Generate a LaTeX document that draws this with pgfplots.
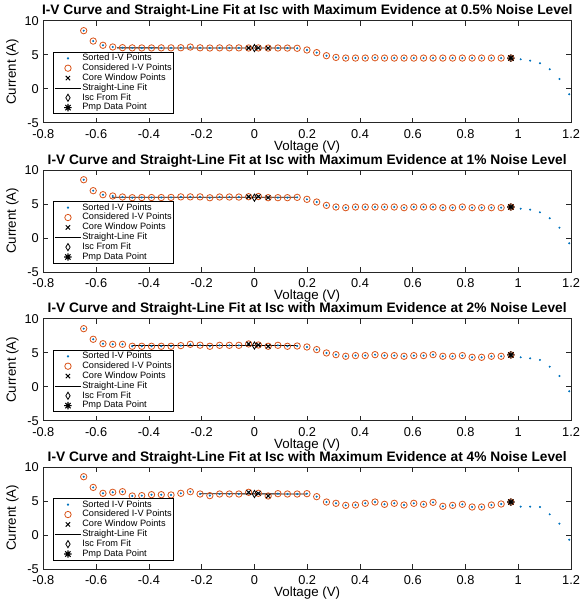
\documentclass[border=0pt]{standalone}
\usepackage{fontspec}
\setmainfont{Liberation Sans}
\usepackage{pgfplots}
\usepackage{pgfplotstable}
\pgfplotsset{compat=1.18}
\definecolor{mblue}{rgb}{0,0.447,0.741}
\definecolor{morange}{rgb}{0.85,0.325,0.098}
\pgfdeclareplotmark{mstar}{%
 \pgfpathmoveto{\pgfqpoint{-\pgfplotmarksize}{0pt}}\pgfpathlineto{\pgfqpoint{\pgfplotmarksize}{0pt}}%
 \pgfpathmoveto{\pgfqpoint{0pt}{-\pgfplotmarksize}}\pgfpathlineto{\pgfqpoint{0pt}{\pgfplotmarksize}}%
 \pgfpathmoveto{\pgfqpoint{-0.707\pgfplotmarksize}{-0.707\pgfplotmarksize}}\pgfpathlineto{\pgfqpoint{0.707\pgfplotmarksize}{0.707\pgfplotmarksize}}%
 \pgfpathmoveto{\pgfqpoint{-0.707\pgfplotmarksize}{0.707\pgfplotmarksize}}\pgfpathlineto{\pgfqpoint{0.707\pgfplotmarksize}{-0.707\pgfplotmarksize}}%
 \pgfusepathqstroke}

\pgfplotstableread{
x y
-0.647 8.53
-0.611 7.00
-0.574 6.38
-0.537 6.13
-0.500 6.03
-0.463 6.00
-0.427 5.99
-0.390 5.99
-0.353 6.00
-0.316 6.00
-0.279 6.02
-0.243 6.12
-0.206 6.01
-0.169 5.98
-0.132 6.00
-0.095 6.00
-0.059 6.00
-0.022 5.98
0.015 5.99
0.052 5.97
0.089 5.98
0.125 5.97
0.162 5.94
0.199 5.69
0.236 5.30
0.273 4.85
0.309 4.60
0.346 4.50
0.383 4.50
0.420 4.50
0.457 4.55
0.493 4.50
0.530 4.50
0.567 4.50
0.604 4.50
0.641 4.50
0.677 4.50
0.714 4.50
0.751 4.50
0.788 4.50
0.825 4.50
0.861 4.50
0.898 4.50
0.935 4.50
0.972 4.50
1.009 4.32
1.045 4.12
1.082 3.74
1.119 2.85
1.156 1.43
1.193 -0.82
}\dataA

\pgfplotstableread{
x y
-0.647 8.57
-0.611 6.96
-0.574 6.37
-0.537 6.18
-0.500 6.03
-0.463 5.93
-0.427 5.95
-0.390 5.95
-0.353 5.95
-0.316 5.97
-0.279 6.05
-0.243 6.05
-0.206 6.05
-0.169 5.92
-0.132 6.03
-0.095 6.03
-0.059 6.02
-0.022 6.07
0.015 6.10
0.052 5.93
0.089 5.93
0.125 5.93
0.162 5.98
0.199 5.69
0.236 5.29
0.273 4.80
0.309 4.56
0.346 4.46
0.383 4.56
0.420 4.56
0.457 4.56
0.493 4.56
0.530 4.56
0.567 4.46
0.604 4.56
0.641 4.56
0.677 4.56
0.714 4.46
0.751 4.46
0.788 4.56
0.825 4.46
0.861 4.46
0.898 4.46
0.935 4.46
0.972 4.56
1.009 4.31
1.045 4.17
1.082 3.78
1.119 2.90
1.156 1.52
1.193 -0.78
}\dataB

\pgfplotstableread{
x y
-0.647 8.53
-0.611 6.97
-0.574 6.32
-0.537 6.23
-0.500 6.23
-0.463 5.94
-0.427 5.94
-0.390 5.94
-0.353 5.94
-0.316 5.94
-0.279 6.04
-0.243 6.23
-0.206 6.10
-0.169 5.94
-0.132 6.08
-0.095 6.08
-0.059 6.08
-0.022 6.28
0.015 6.13
0.052 5.94
0.089 6.08
0.125 5.94
0.162 5.98
0.199 5.84
0.236 5.45
0.273 4.96
0.309 4.71
0.346 4.47
0.383 4.57
0.420 4.57
0.457 4.71
0.493 4.57
0.530 4.57
0.567 4.47
0.604 4.57
0.641 4.57
0.677 4.71
0.714 4.47
0.751 4.47
0.788 4.57
0.825 4.32
0.861 4.32
0.898 4.47
0.935 4.47
0.972 4.67
1.009 4.32
1.045 4.17
1.082 3.93
1.119 2.94
1.156 1.57
1.193 -0.68
}\dataC

\pgfplotstableread{
x y
-0.647 8.57
-0.611 7.00
-0.574 6.13
-0.537 6.28
-0.500 6.37
-0.463 5.74
-0.427 5.79
-0.390 5.93
-0.353 5.93
-0.316 5.89
-0.279 6.13
-0.243 6.37
-0.206 6.03
-0.169 5.79
-0.132 6.03
-0.095 6.03
-0.059 6.03
-0.022 6.28
0.015 6.13
0.052 5.74
0.089 6.08
0.125 6.03
0.162 6.03
0.199 6.08
0.236 5.64
0.273 4.85
0.309 4.66
0.346 4.36
0.383 4.41
0.420 4.66
0.457 4.85
0.493 4.51
0.530 4.66
0.567 4.41
0.604 4.66
0.641 4.51
0.677 4.80
0.714 4.22
0.751 4.36
0.788 4.51
0.825 4.12
0.861 4.12
0.898 4.41
0.935 4.56
0.972 4.85
1.009 4.17
1.045 4.17
1.082 4.12
1.119 3.04
1.156 1.67
1.193 -0.69
}\dataD

\pgfplotsset{
 panel/.style={
  scale only axis, width=395.8pt, height=76.5pt,
  anchor=north west,
  xmin=-0.8, xmax=1.2, ymin=-5, ymax=10,
  xtick={-0.8,-0.6,-0.4,-0.2,0,0.2,0.4,0.6,0.8,1,1.2},
  ytick={-5,0,5,10},
  tick align=inside, major tick length=3.75pt,
  axis line style={line width=0.5pt, black!85},
  every tick/.style={black!85, line width=0.5pt},
  tick label style={font=\fontsize{9.6}{11}\selectfont, inner sep=0.5pt},
  xticklabel style={yshift=-4.3pt},
  yticklabel style={xshift=-2.7pt},
  /pgf/number format/assume math mode=true,
  xlabel={Voltage (V)}, ylabel={Current (A)},
  label style={font=\fontsize{11.2}{12}\selectfont},
  every axis x label/.style={at={(axis description cs:0.5,-0.274)}, anchor=base},
  every axis y label/.style={at={(axis description cs:-0.0587,0.5)}, rotate=90, anchor=center},
  every axis title/.style={at={(axis description cs:0.5,1)}, anchor=base, yshift=4.3pt, inner sep=0pt, font=\bfseries\fontsize{10.3}{12}\selectfont},
  legend style={at={(axis description cs:0.018,0.085)}, anchor=south west,
    font=\fontsize{6.9}{7.1}\selectfont, draw=black, line width=0.5pt,
    inner sep=0.8pt, row sep=0pt, fill=white, nodes={inner sep=0.45pt}},
  legend cell align=left,
  legend image code/.code={\draw[mark repeat=2,mark phase=2,#1] plot coordinates {(0pt,0pt) (10pt,0pt) (20pt,0pt)};},
 },
 sorted/.style={only marks, mark=*, mark size=0.55pt, mblue},
 consid/.style={only marks, mark=o, mark size=2.4pt, morange, line width=0.6pt, restrict x to domain=-1:0.98},
 core/.style={only marks, mark=x, mark size=2.3pt, black, line width=0.7pt, restrict x to domain=-0.03:0.06},
 fitl/.style={black, line width=0.6pt, no marks},
 iscm/.style={only marks, mark=diamond, mark size=2.7pt, black, line width=0.6pt, mark options={xscale=0.8}},
 pmpm/.style={only marks, mark=mstar, mark size=2.8pt, black, line width=0.8pt},
}

\begin{document}
\begin{tikzpicture}
\begin{axis}[panel, at={(32.5pt,-15.5pt)},
  title={I-V Curve and Straight-Line Fit at Isc with Maximum Evidence at 0.5\% Noise Level}]
\addplot[sorted] table {\dataA};
\addplot[consid] table {\dataA};
\addplot[core] table {\dataA};
\addplot[fitl] coordinates {(-0.52,6.0) (0.15,5.98)};
\addplot[iscm] coordinates {(0,5.97)};
\addplot[pmpm] coordinates {(0.972,4.50)};
\legend{Sorted I-V Points, Considered I-V Points, Core Window Points, Straight-Line Fit, Isc From Fit, Pmp Data Point}
\end{axis}
\begin{axis}[panel, at={(32.5pt,-127.5pt)},
  title={I-V Curve and Straight-Line Fit at Isc with Maximum Evidence at 1\% Noise Level}]
\addplot[sorted] table {\dataB};
\addplot[consid] table {\dataB};
\addplot[core] table {\dataB};
\addplot[fitl] coordinates {(-0.54,6.0) (0.16,5.98)};
\addplot[iscm] coordinates {(0,5.93)};
\addplot[pmpm] coordinates {(0.972,4.56)};
\legend{Sorted I-V Points, Considered I-V Points, Core Window Points, Straight-Line Fit, Isc From Fit, Pmp Data Point}
\end{axis}
\begin{axis}[panel, at={(32.5pt,-239pt)},
  title={I-V Curve and Straight-Line Fit at Isc with Maximum Evidence at 2\% Noise Level}]
\addplot[sorted] table {\dataC};
\addplot[consid] table {\dataC};
\addplot[core] table {\dataC};
\addplot[fitl] coordinates {(-0.465,6.06) (0.16,6.04)};
\addplot[iscm] coordinates {(0,6.05)};
\addplot[pmpm] coordinates {(0.972,4.67)};
\legend{Sorted I-V Points, Considered I-V Points, Core Window Points, Straight-Line Fit, Isc From Fit, Pmp Data Point}
\end{axis}
\begin{axis}[panel, at={(32.5pt,-350.25pt)},
  title={I-V Curve and Straight-Line Fit at Isc with Maximum Evidence at 4\% Noise Level}]
\addplot[sorted] table {\dataD};
\addplot[consid] table {\dataD};
\addplot[core] table {\dataD};
\addplot[fitl] coordinates {(-0.206,6.06) (0.199,6.04)};
\addplot[iscm] coordinates {(0,6.03)};
\addplot[pmpm] coordinates {(0.972,4.85)};
\legend{Sorted I-V Points, Considered I-V Points, Core Window Points, Straight-Line Fit, Isc From Fit, Pmp Data Point}
\end{axis}
\pgfresetboundingbox
\useasboundingbox (0pt,0pt) rectangle (435pt,-455.25pt);
\end{tikzpicture}
\end{document}
